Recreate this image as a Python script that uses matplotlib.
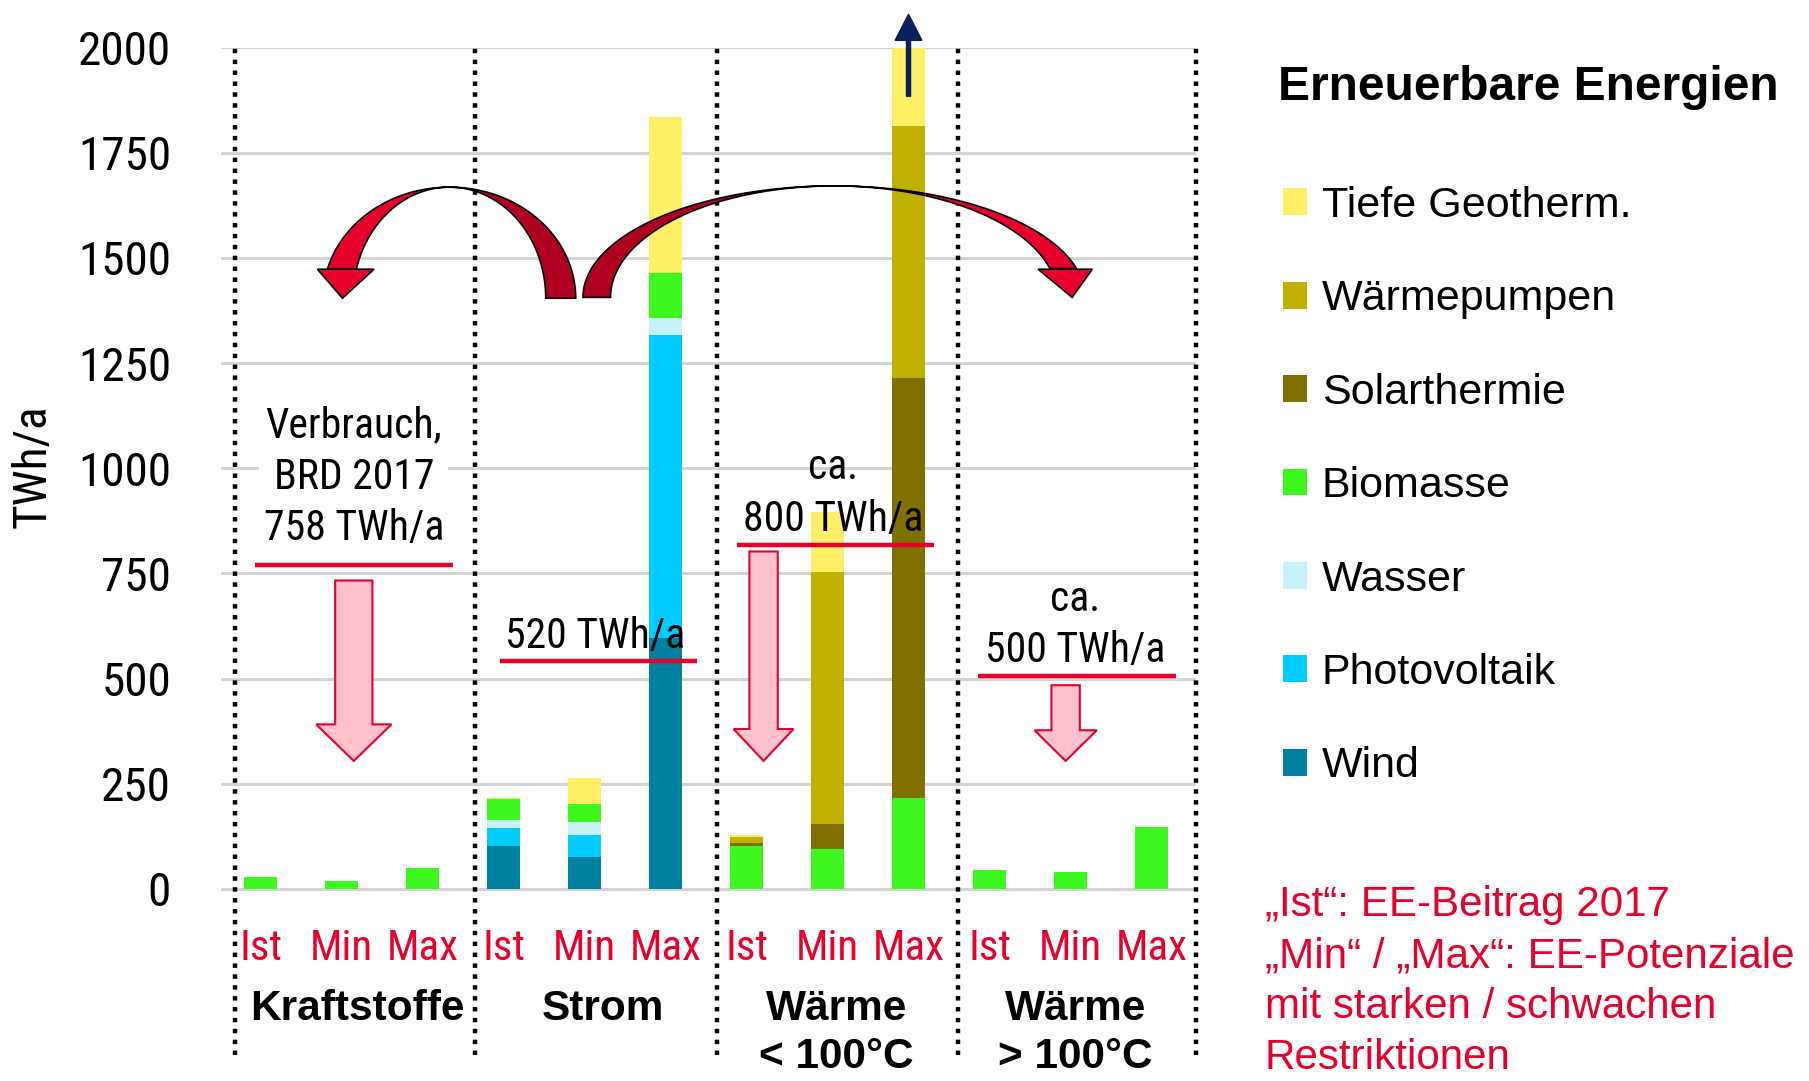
import numpy as np
import matplotlib
matplotlib.use("Agg")
import matplotlib.pyplot as plt
from matplotlib import font_manager
from matplotlib.patches import Polygon, FancyArrow, Patch

# Daten in TWh/a, je Sektor die Szenarien Ist / Min / Max
sektoren = ["Kraftstoffe", "Strom", "Wärme\n< 100°C", "Wärme\n> 100°C"]
szenarien = ["Ist", "Min", "Max"]

wind         = [0, 0, 0, 102, 75, 597, 0, 0, 0, 0, 0, 0]
photovoltaik = [0, 0, 0, 42, 53, 720, 0, 0, 0, 0, 0, 0]
wasser       = [0, 0, 0, 20, 32, 40, 0, 0, 0, 0, 0, 0]
biomasse     = [28, 18, 50, 49, 41, 107, 102, 95, 215, 45, 40, 147]
solarthermie = [0, 0, 0, 0, 0, 0, 8, 59, 1000, 0, 0, 0]
waermepumpen = [0, 0, 0, 0, 0, 0, 13, 600, 598, 0, 0, 0]
geothermie   = [0, 0, 0, 3, 63, 370, 4, 142, 400, 0, 0, 0]

verbrauch_text = ["Verbrauch,\nBRD 2017\n758 TWh/a", "520 TWh/a",
                  "ca.\n800 TWh/a", "ca.\n500 TWh/a"]
verbrauch_linie = [769, 542, 818, 507]

y_ticks = list(range(0, 2001, 250))

ROT = "#E6002B"
W, H = 1809, 1081

# schmale Schrift suchen (die Vorlage nutzt eine Narrow-Schrift)
names = {f.name for f in font_manager.fontManager.ttflist}
SCHMAL, STRETCH, FAKTOR = "Liberation Sans", "normal", 0.86
for kand in ["Liberation Sans Narrow", "Arial Narrow", "Roboto Condensed",
             "Noto Sans Condensed", "Open Sans Condensed", "DejaVu Sans Condensed"]:
    if kand in names:
        SCHMAL, FAKTOR = kand, 1.0
        break
else:
    for f in font_manager.fontManager.ttflist:
        if f.stretch == "condensed" and f.weight in (400, "normal", "regular") and f.style == "normal":
            SCHMAL, STRETCH, FAKTOR = f.name, "condensed", 1.0
            break

NORMAL = "Liberation Sans"
plt.rcParams["font.family"] = [NORMAL, "DejaVu Sans"]
schmal = dict(family=SCHMAL, stretch=STRETCH)

fig = plt.figure(figsize=(W / 100, H / 100), dpi=100)
ax = fig.add_axes([221 / W, (H - 1055) / H, 975 / W, 1007.5 / H])

x = np.arange(12)
reihen = [("Wind", wind, "#00809F"),
          ("Photovoltaik", photovoltaik, "#00CCFF"),
          ("Wasser", wasser, "#C8F1FA"),
          ("Biomasse", biomasse, "#3CF81E"),
          ("Solarthermie", solarthermie, "#807000"),
          ("Wärmepumpen", waermepumpen, "#C0B000"),
          ("Tiefe Geotherm.", geothermie, "#FFEF66")]

bottom = np.zeros(12)
handles = []
for name, werte, farbe in reihen:
    ax.bar(x, werte, 0.4, bottom=bottom, color=farbe, zorder=2)
    bottom += np.array(werte)
    handles.append(Patch(facecolor=farbe, label=name))

ax.set_xlim(-0.49, 11.55)
ax.set_ylim(-395, 2000)
ax.set_yticks(y_ticks)
ax.set_xticks([])
ax.yaxis.grid(True, color="#D4D4D4", lw=2.2)
ax.set_axisbelow(True)
for s in ax.spines.values():
    s.set_visible(False)
ax.tick_params(axis="y", length=0, pad=36)
for lab in ax.get_yticklabels():
    lab.set_fontsize(34 * FAKTOR)
    lab.set_family(SCHMAL)
    lab.set_stretch(STRETCH)
ax.set_ylabel("TWh/a", fontsize=34 * FAKTOR, **schmal)
ax.yaxis.set_label_coords(-0.171, 0.584)

# gepunktete Trennlinien zwischen den Sektoren
trenner = [-0.32, 2.65, 5.64, 8.61, 11.55]
ax.vlines(trenner, -395, 2000, colors="black", linestyles=(0, (1, 1.45)),
          lw=3.2, zorder=3, clip_on=False)

# Szenario- und Sektorbeschriftungen
for i in x:
    ax.text(i, -143, szenarien[i % 3], color=ROT, ha="center", va="center",
            fontsize=31 * FAKTOR, **schmal)
sektor_mitte = [1.2, 4.23, 7.11, 10.06]
for xm, name in zip(sektor_mitte, sektoren):
    ax.text(xm, -237, name, ha="center", va="top", fontsize=30.5,
            weight="bold", linespacing=1.27)

# Verbrauchslinien mit Beschriftung
linie_mitte = [1.15, 4.17, 7.1, 10.08]
for xm, yv in zip(linie_mitte, verbrauch_linie):
    ax.hlines(yv, xm - 1.22, xm + 1.22, colors=ROT, lw=3.2, zorder=4)
text_pos = [(1.15, 978), (4.13, 601), (7.07, 940), (10.06, 627)]
for (xt, yt), txt in zip(text_pos, verbrauch_text):
    box = dict(facecolor="white", edgecolor="none", pad=3) if txt.startswith("Verbrauch") else None
    ax.text(xt, yt, txt, ha="center", va="center", fontsize=30 * FAKTOR,
            linespacing=1.33 / FAKTOR, zorder=5, bbox=box, **schmal)

# rosa Pfeile nach unten
pfeile = [(1.15, 733, 391, 304, 0.46, 0.93),
          (6.21, 802, 380, 304, 0.35, 0.74),
          (9.94, 484, 377, 304, 0.35, 0.77)]
for xp, oben, kopf, spitze, breite, kbreite in pfeile:
    ax.add_patch(FancyArrow(xp, oben, 0, spitze - oben, width=breite,
                            head_width=kbreite, head_length=kopf - spitze,
                            length_includes_head=True, facecolor="#FFC2CD",
                            edgecolor=ROT, lw=1.5, zorder=5))

# blauer Pfeil: Balken geht über 2000 hinaus
ax.add_patch(FancyArrow(8, 1884, 0, 195, width=0.05, head_width=0.33,
                        head_length=62, length_includes_head=True,
                        color="#0B1F5C", clip_on=False, zorder=6))


def bogen(cx, y0, a, b, t0, t1, n=80):
    t = np.radians(np.linspace(t0, t1, n))
    return np.column_stack([cx + a * np.cos(t), y0 + b * np.sin(t)])


def bogenpfeil(cx, y0, b, a_aussen, a_innen, t_ende, t_kopf, kopf):
    dunkel = np.vstack([bogen(cx, y0, a_aussen, b, t_ende, 90),
                        bogen(cx, y0, a_innen, b, 90, t_ende)])
    hell = np.vstack([bogen(cx, y0, a_aussen, b, 90, t_kopf),
                      bogen(cx, y0, a_innen, b, t_kopf, 90)])
    ax.add_patch(Polygon(dunkel, closed=True, facecolor="#B0001F",
                         edgecolor="black", lw=1.2, zorder=6))
    ax.add_patch(Polygon(hell, closed=True, facecolor="#E6002B",
                         edgecolor="black", lw=1.2, zorder=6))
    ax.add_patch(Polygon(kopf, closed=True, facecolor="#E6002B",
                         edgecolor="black", lw=1.2, zorder=6))


bogenpfeil(2.33, 1404, 264, 1.56, 1.19, 0, 165,
           [(0.70, 1473), (1.40, 1473), (1.01, 1404)])
bogenpfeil(7.08, 1406, 265, 3.10, 2.76, 180, 15,
           [(9.60, 1473), (10.27, 1473), (10.02, 1406)])

# Legende
fig.text(1278 / W, 1 - 88 / H, "Erneuerbare Energien", fontsize=34.5,
         weight="bold", va="center", ha="left")
fig.legend(handles=handles[::-1], loc="upper left",
           bbox_to_anchor=(1283 / W, 1 - 186 / H), frameon=False,
           borderpad=0, borderaxespad=0, handlelength=0.55, handleheight=0.58,
           handletextpad=0.35, labelspacing=1.24, fontsize=31)

notiz = ("\u201eIst\u201c: EE-Beitrag 2017\n"
         "\u201eMin\u201c / \u201eMax\u201c: EE-Potenziale\n"
         "mit starken / schwachen\n"
         "Restriktionen")
fig.text(1265 / W, 1 - 885 / H, notiz, color=ROT, fontsize=30.3,
         va="top", ha="left", linespacing=1.36)

fig.savefig("out.png", dpi=100)
